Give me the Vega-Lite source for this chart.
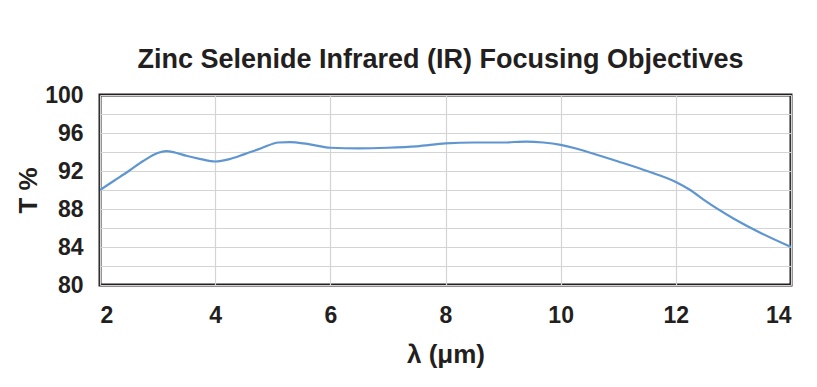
{
  "$schema": "https://vega.github.io/schema/vega-lite/v6.json",
  "autosize": {"type": "none"},
  "padding": {"left": 100, "top": 95, "right": 26, "bottom": 102},
  "width": 691,
  "height": 190,
  "background": "white",
  "title": {
    "text": "Zinc Selenide Infrared (IR) Focusing Objectives",
    "font": "Liberation Sans",
    "fontWeight": "bold",
    "fontSize": 27,
    "color": "#231f20",
    "anchor": "middle",
    "offset": 10,
    "dx": -5
  },
  "config": {
    "view": {"stroke": "#231f20", "strokeWidth": 3},
    "axis": {
      "labelFont": "Liberation Sans",
      "labelFontWeight": "bold",
      "labelFontSize": 23,
      "labelColor": "#231f20",
      "titleFont": "Liberation Sans",
      "titleFontWeight": "bold",
      "titleFontSize": 26,
      "titleColor": "#231f20",
      "gridColor": "#d4d4d4",
      "gridWidth": 1.2,
      "gridOpacity": 1,
      "domain": false,
      "ticks": false
    }
  },
  "data": {
    "values": [
      {"wl": 2.0, "t": 90.0},
      {"wl": 2.25, "t": 91.0},
      {"wl": 2.5, "t": 92.0},
      {"wl": 2.75, "t": 93.05},
      {"wl": 3.0, "t": 93.9},
      {"wl": 3.15, "t": 94.1},
      {"wl": 3.3, "t": 93.95},
      {"wl": 3.5, "t": 93.6},
      {"wl": 3.75, "t": 93.25},
      {"wl": 4.0, "t": 93.0},
      {"wl": 4.25, "t": 93.25},
      {"wl": 4.5, "t": 93.75},
      {"wl": 4.8, "t": 94.4},
      {"wl": 5.1, "t": 95.0},
      {"wl": 5.3, "t": 95.05},
      {"wl": 5.6, "t": 94.85},
      {"wl": 6.0, "t": 94.45},
      {"wl": 6.5, "t": 94.38},
      {"wl": 7.0, "t": 94.45},
      {"wl": 7.5, "t": 94.6},
      {"wl": 8.0, "t": 94.9},
      {"wl": 8.5, "t": 95.0},
      {"wl": 9.0, "t": 95.0},
      {"wl": 9.4, "t": 95.1},
      {"wl": 9.7, "t": 95.0},
      {"wl": 10.0, "t": 94.75},
      {"wl": 10.25, "t": 94.4},
      {"wl": 10.5, "t": 93.95},
      {"wl": 11.0, "t": 93.0},
      {"wl": 11.5, "t": 92.0},
      {"wl": 12.0, "t": 90.85},
      {"wl": 12.25, "t": 90.0},
      {"wl": 12.5, "t": 88.9},
      {"wl": 13.0, "t": 87.0},
      {"wl": 13.5, "t": 85.4},
      {"wl": 14.0, "t": 84.0}
    ]
  },
  "mark": {"type": "line", "color": "#5f96d0", "strokeWidth": 2.2, "interpolate": "monotone", "clip": true},
  "encoding": {
    "x": {
      "field": "wl",
      "type": "quantitative",
      "scale": {"domain": [2, 14], "nice": false},
      "axis": {
        "title": "λ (μm)",
        "values": [2, 4, 6, 8, 10, 12, 14],
        "labelPadding": 19,
        "titlePadding": 14
      }
    },
    "y": {
      "field": "t",
      "type": "quantitative",
      "scale": {"domain": [80, 100], "nice": false, "zero": false},
      "axis": {
        "title": "T %",
        "values": [80, 82, 84, 86, 88, 90, 92, 94, 96, 98, 100],
        "labelExpr": "datum.value % 4 == 0 ? datum.label : ''",
        "labelPadding": 17,
        "titlePadding": 3
      }
    }
  }
}
